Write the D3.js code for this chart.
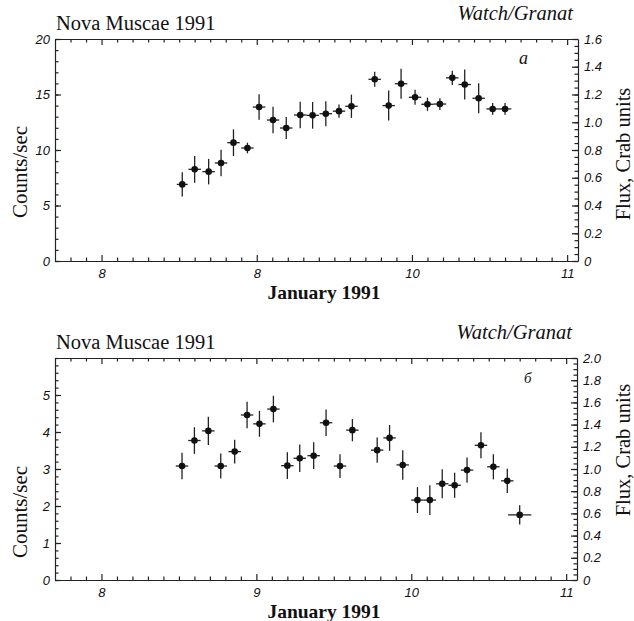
<!DOCTYPE html>
<html>
<head>
<meta charset="utf-8">
<script src="https://cdn.jsdelivr.net/npm/d3@7"></script>
<style>
  body { margin: 0; background: #fff; }
  svg { display: block; }
  .tick text { font-family: "Liberation Sans Narrow", "Liberation Sans", sans-serif; font-style: italic; font-size: 13px; fill: #111; }
  .domain, .tick line { stroke: #222; stroke-width: 1.2; }
  .ttl { font-family: "Liberation Serif", serif; fill: #111; }
</style>
</head>
<body>
<div id="chart"></div>
<script>
// panel a
var topDays   = [8.52, 8.60, 8.69, 8.77, 8.85, 8.94, 9.015, 9.105, 9.19, 9.28, 9.36, 9.445, 9.53, 9.61,
                 9.76, 9.85, 9.93, 10.02, 10.10, 10.18, 10.26, 10.34, 10.43, 10.52, 10.60];
var topCounts = [6.9, 8.26, 8.05, 8.83, 10.66, 10.18, 13.87, 12.7, 11.98, 13.15, 13.12, 13.27, 13.5, 13.94,
                 16.37, 14.0, 15.97, 14.75, 14.12, 14.14, 16.5, 15.9, 14.66, 13.7, 13.7];
var topErr    = [1.1, 1.2, 1.15, 1.2, 1.2, 0.48, 1.15, 1.2, 1.0, 1.2, 1.2, 1.13, 0.6, 1.05,
                 0.68, 1.35, 1.35, 0.68, 0.6, 0.53, 0.65, 1.35, 1.35, 0.53, 0.53];
var topDayErr = [0.035, 0.04, 0.04, 0.04, 0.04, 0.04, 0.04, 0.04, 0.04, 0.04, 0.04, 0.04, 0.04, 0.04,
                 0.04, 0.04, 0.04, 0.04, 0.04, 0.04, 0.04, 0.04, 0.04, 0.04, 0.04];

// panel b
var botDays   = [8.52, 8.60, 8.69, 8.77, 8.86, 8.94, 9.02, 9.11, 9.20, 9.28, 9.37, 9.45, 9.54, 9.62,
                 9.78, 9.86, 9.945, 10.04, 10.12, 10.20, 10.28, 10.36, 10.45, 10.53, 10.62, 10.70];
var botCounts = [3.08, 3.77, 4.03, 3.08, 3.47, 4.46, 4.22, 4.62, 3.09, 3.29, 3.36, 4.25, 3.08, 4.05,
                 3.51, 3.84, 3.11, 2.16, 2.16, 2.60, 2.56, 2.97, 3.64, 3.06, 2.68, 1.76];
var botErr    = [0.36, 0.36, 0.38, 0.34, 0.32, 0.36, 0.35, 0.36, 0.36, 0.37, 0.36, 0.36, 0.32, 0.3,
                 0.34, 0.35, 0.4, 0.35, 0.4, 0.39, 0.34, 0.34, 0.35, 0.34, 0.33, 0.26];
var botDayErr = [0.04, 0.04, 0.04, 0.04, 0.04, 0.04, 0.04, 0.04, 0.04, 0.04, 0.04, 0.04, 0.04, 0.04,
                 0.04, 0.04, 0.04, 0.04, 0.04, 0.04, 0.04, 0.04, 0.04, 0.04, 0.04, 0.075];

var dayTicks = [8, 9, 10, 11];
var topDayLabels = ["8", "8", "10", "11"];   // as printed
var botDayLabels = ["8", "9", "10", "11"];
var topCountTicks = [0, 5, 10, 15, 20];
var botCountTicks = [0, 1, 2, 3, 4, 5];
var topFluxTicks = [0, 0.2, 0.4, 0.6, 0.8, 1.0, 1.2, 1.4, 1.6];
var botFluxTicks = [0, 0.2, 0.4, 0.6, 0.8, 1.0, 1.2, 1.4, 1.6, 1.8, 2.0];

var svg = d3.select("#chart").append("svg")
  .attr("width", 634)
  .attr("height", 621);

function panel(p) {
  var x = d3.scaleLinear().domain([7.7, 11.07]).range([p.left, p.right]);
  var y = d3.scaleLinear().domain([0, p.ymax]).range([p.bottom, p.top]);
  var yr = d3.scaleLinear().domain([0, p.fmax]).range([p.bottom, p.top]);
  var g = svg.append("g");

  var minorX = d3.range(7.8, 11.05, 0.1).filter(d => Math.abs(d - Math.round(d)) > 0.01);

  // minor ticks
  g.append("g").attr("transform", "translate(0," + p.bottom + ")")
    .call(d3.axisBottom(x).tickValues(minorX).tickSize(-3.5).tickFormat(""))
    .select(".domain").remove();
  g.append("g").attr("transform", "translate(0," + p.top + ")")
    .call(d3.axisTop(x).tickValues(minorX).tickSize(-3.5).tickFormat(""))
    .select(".domain").remove();
  g.append("g").attr("transform", "translate(" + p.left + ",0)")
    .call(d3.axisLeft(y).tickValues(d3.range(0, p.ymax + 0.001, p.yminor)).tickSize(-3.5).tickFormat(""))
    .select(".domain").remove();
  g.append("g").attr("transform", "translate(" + p.right + ",0)")
    .call(d3.axisRight(yr).tickValues(d3.range(0, p.fmax + 0.001, 0.05)).tickSize(-3.5).tickFormat(""))
    .select(".domain").remove();

  // major ticks and labels
  g.append("g").attr("transform", "translate(0," + p.bottom + ")")
    .call(d3.axisBottom(x).tickValues(dayTicks).tickSizeInner(-6).tickSizeOuter(0).tickPadding(8)
      .tickFormat((d, i) => p.dayLabels[i]));
  g.append("g").attr("transform", "translate(0," + p.top + ")")
    .call(d3.axisTop(x).tickValues(dayTicks).tickSizeInner(-6).tickSizeOuter(0).tickFormat(""));
  g.append("g").attr("transform", "translate(" + p.left + ",0)")
    .call(d3.axisLeft(y).tickValues(p.countTicks).tickSizeInner(-6).tickSizeOuter(0).tickPadding(5)
      .tickFormat(d3.format("d")));
  g.append("g").attr("transform", "translate(" + p.right + ",0)")
    .call(d3.axisRight(yr).tickValues(p.fluxTicks).tickSizeInner(-6).tickSizeOuter(0).tickPadding(6)
      .tickFormat(d => d === 0 ? "0" : d3.format(".1f")(d)));

  // data
  var pts = p.days.map((d, i) => ({ d: d, c: p.counts[i], e: p.err[i], h: p.dayErr[i] }));
  var m = g.append("g");
  m.selectAll("line.v").data(pts).join("line").attr("class", "v")
    .attr("x1", d => x(d.d)).attr("x2", d => x(d.d))
    .attr("y1", d => y(d.c - d.e)).attr("y2", d => y(d.c + d.e))
    .attr("stroke", "#222").attr("stroke-width", 1.3);
  m.selectAll("line.h").data(pts).join("line").attr("class", "h")
    .attr("x1", d => x(d.d - d.h)).attr("x2", d => x(d.d + d.h))
    .attr("y1", d => y(d.c)).attr("y2", d => y(d.c))
    .attr("stroke", "#222").attr("stroke-width", 1.3);
  m.selectAll("circle").data(pts).join("circle")
    .attr("cx", d => x(d.d)).attr("cy", d => y(d.c)).attr("r", 3.3).attr("fill", "#111");

  // texts
  g.append("text").attr("class", "ttl").attr("x", p.left + 1).attr("y", p.top - 9)
    .attr("font-size", 20.5).text("Nova Muscae 1991");
  g.append("text").attr("class", "ttl").attr("x", p.right - 5).attr("y", p.top - 19)
    .attr("font-size", 20.5).attr("font-style", "italic").attr("text-anchor", "end").text("Watch/Granat");
  g.append("text").attr("class", "ttl").attr("x", p.labelX).attr("y", p.top + 25)
    .attr("font-size", p.labelSize).attr("font-style", "italic").text(p.label);
  g.append("text").attr("class", "ttl").attr("x", 324).attr("y", p.bottom + 38)
    .attr("font-size", 19.5).attr("font-weight", "bold").attr("text-anchor", "middle").text("January 1991");
  g.append("text").attr("class", "ttl")
    .attr("transform", "translate(" + 27 + "," + p.countsY + ") rotate(-90)")
    .attr("font-size", 21).attr("text-anchor", "middle").text("Counts/sec");
  g.append("text").attr("class", "ttl")
    .attr("transform", "translate(" + 630 + "," + p.fluxY + ") rotate(-90)")
    .attr("font-size", 20.5).attr("text-anchor", "middle").text("Flux, Crab units");
}

panel({ left: 55, right: 578, top: 39, bottom: 261, ymax: 20, yminor: 1, fmax: 1.6,
  days: topDays, counts: topCounts, err: topErr, dayErr: topDayErr,
  dayLabels: topDayLabels, countTicks: topCountTicks, fluxTicks: topFluxTicks,
  label: "a", labelX: 519, labelSize: 18, countsY: 172, fluxY: 154 });

panel({ left: 55, right: 577, top: 358, bottom: 580, ymax: 6, yminor: 0.2, fmax: 2.0,
  days: botDays, counts: botCounts, err: botErr, dayErr: botDayErr,
  dayLabels: botDayLabels, countTicks: botCountTicks, fluxTicks: botFluxTicks,
  label: "б", labelX: 524, labelSize: 15, countsY: 512, fluxY: 450 });
</script>
</body>
</html>
